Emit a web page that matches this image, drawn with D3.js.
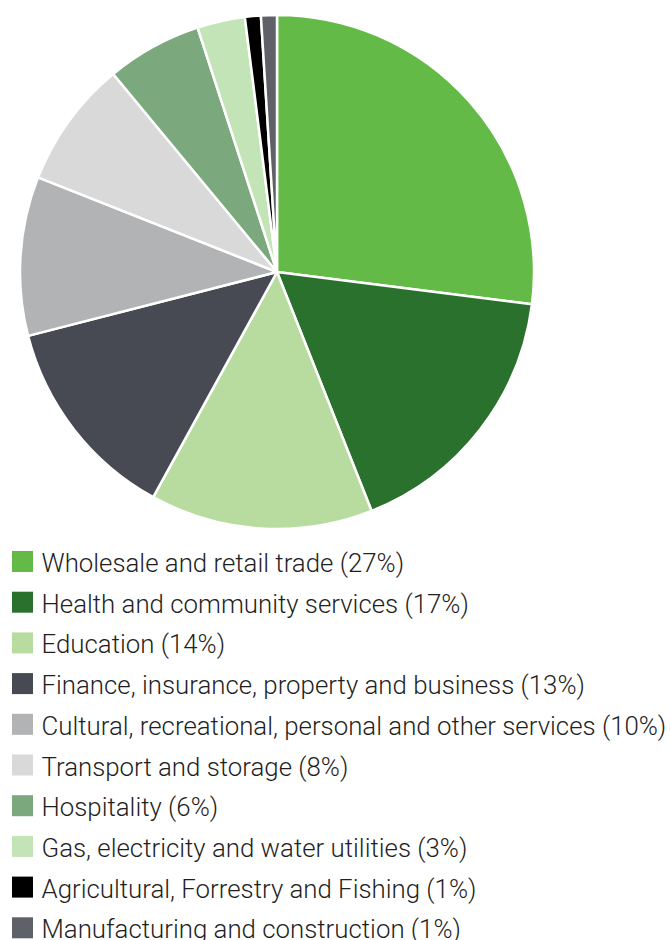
<!DOCTYPE html>
<html>
<head>
<meta charset="utf-8">
<script src="https://cdn.jsdelivr.net/npm/d3@7"></script>
<style>
  html, body { margin: 0; padding: 0; background: #fff; }
  svg { display: block; }
</style>
</head>
<body>
<svg id="chart" width="671" height="940"></svg>
<script>
// Employment share by industry
const categories = [
  "Wholesale and retail trade",
  "Health and community services",
  "Education",
  "Finance, insurance, property and business",
  "Cultural, recreational, personal and other services",
  "Transport and storage",
  "Hospitality",
  "Gas, electricity and water utilities",
  "Agricultural, Forrestry and Fishing",
  "Manufacturing and construction"
];
const shares = [27, 17, 14, 13, 10, 8, 6, 3, 1, 1];
const colors = [
  "#63ba47", "#2a712e", "#b8dc9f", "#474a53", "#b1b3b4",
  "#d9d9d9", "#7ba97d", "#c2e4b6", "#000000", "#5e6168"
];

const svg = d3.select("#chart");
const cx = 277, cy = 272, radius = 257;

const pie = d3.pie().sort(null).value(d => d.value);
const arc = d3.arc().innerRadius(0).outerRadius(radius);
const data = categories.map((c, i) => ({ name: c, value: shares[i], color: colors[i] }));

svg.append("g")
  .attr("transform", `translate(${cx},${cy})`)
  .selectAll("path")
  .data(pie(data))
  .join("path")
  .attr("d", arc)
  .attr("fill", d => d.data.color)
  .attr("stroke", "#fff")
  .attr("stroke-width", 2.5)
  .attr("stroke-linejoin", "round");

// Legend
const rowY = d3.scaleLinear().domain([0, 1]).range([551, 591.7]);
const legend = svg.append("g");
const rows = legend.selectAll("g")
  .data(data)
  .join("g")
  .attr("transform", (d, i) => `translate(0,${rowY(i)})`);

rows.append("rect")
  .attr("x", 12).attr("y", 0)
  .attr("width", 21).attr("height", 21)
  .attr("fill", d => d.color);

const labels = rows.append("text")
  .attr("x", 0).attr("y", 0)
  .attr("font-family", "Roboto, 'Liberation Sans', sans-serif")
  .attr("font-weight", 300)
  .attr("font-size", 26.5)
  .attr("fill", "#1f1f1f")
  .text(d => `${d.name} (${d.value}%)`);

// Condense the label type so the longest line spans its column
const longest = d3.max(labels.nodes(), n => n.getComputedTextLength());
const sx = 625 / longest;
labels.attr("transform", `translate(41.5,21) scale(${sx},1)`);
</script>
</body>
</html>
